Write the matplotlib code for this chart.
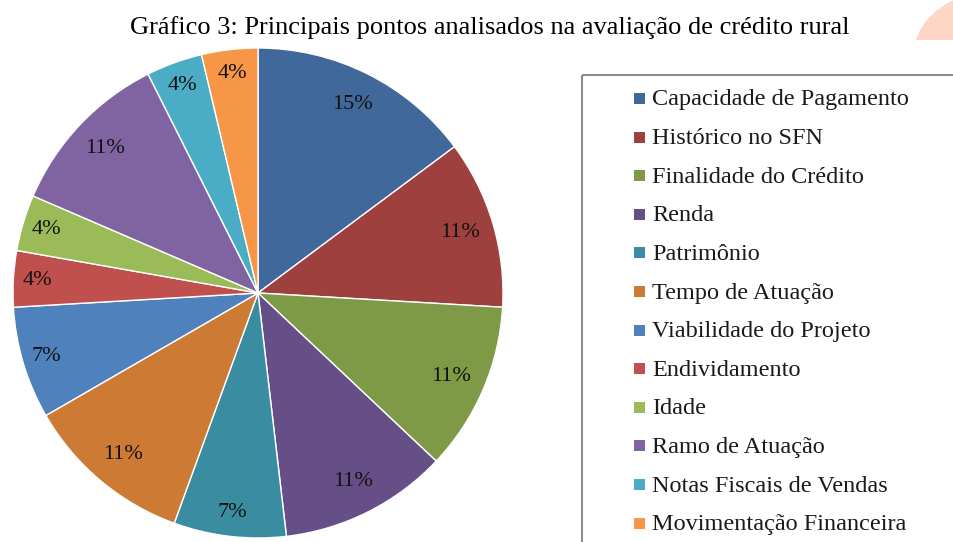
import matplotlib
matplotlib.use("Agg")
import matplotlib.pyplot as plt
import numpy as np
from matplotlib.patches import Rectangle, Polygon

categories = ["Capacidade de Pagamento", "Histórico no SFN", "Finalidade do Crédito",
              "Renda", "Patrimônio", "Tempo de Atuação", "Viabilidade do Projeto",
              "Endividamento", "Idade", "Ramo de Atuação", "Notas Fiscais de Vendas",
              "Movimentação Financeira"]
# counts of responses (shown as rounded percentages: 15%, 11%, 7%, 4%)
counts = [4, 3, 3, 3, 2, 3, 2, 1, 1, 3, 1, 1]
colors = ["#41689A", "#9E413E", "#7E9A47", "#664E86", "#3A8DA1", "#CD7A35",
          "#4F81BD", "#C0504D", "#9BBB59", "#8064A2", "#4BACC6", "#F79646"]
title = "Gráfico 3: Principais pontos analisados na avaliação de crédito rural"

W, H = 954, 542
fig = plt.figure(figsize=(W / 100, H / 100), dpi=100)
fig.patch.set_facecolor("white")

# watermark-like orange shape top right
wm = fig.add_axes([0, 0, 1, 1], zorder=-5)
wm.set_xlim(0, W); wm.set_ylim(H, 0); wm.axis("off")
wm.add_patch(Polygon([(916, 40), (920, 30), (927, 20), (936, 11), (946, 4), (954, 0),
                      (954, 40)], closed=True, facecolor="#FDD6C5", edgecolor="none"))

cx, cy, r = 258, 293, 245
ax = fig.add_axes([(cx - r) / W, (H - cy - r) / H, 2 * r / W, 2 * r / H])
wedges, texts, autotexts = ax.pie(counts, colors=colors, startangle=90, counterclock=False,
                                  autopct="%.0f%%", pctdistance=0.87,
                                  wedgeprops=dict(edgecolor="white", linewidth=1.0))
total = sum(counts)
for w, t, c in zip(wedges, autotexts, counts):
    ang = np.deg2rad((w.theta1 + w.theta2) / 2)
    d = 0.90 if c / total < 0.08 else 0.86
    t.set_position((d * np.cos(ang), d * np.sin(ang)))
    t.set_ha("center"); t.set_va("center")
    t.set_fontsize(16); t.set_family("Liberation Serif"); t.set_color("#111111")
ax.set_xlim(-1, 1); ax.set_ylim(-1, 1)
ax.axis("off")

fig.text(490 / W, 1 - 28 / H, title, ha="center", va="center",
         fontsize=19, family="Liberation Serif", color="black")

# legend
lg = fig.add_axes([0, 0, 1, 1], zorder=5)
lg.set_xlim(0, W); lg.set_ylim(H, 0); lg.axis("off")
lg.add_patch(Rectangle((582, 75), 400, 500, fill=False, edgecolor="#8c8c8c", lw=1.5, clip_on=False))
y0, dy = 100, 38.6
for i, (c, col) in enumerate(zip(categories, colors)):
    y = y0 + i * dy
    lg.add_patch(Rectangle((634, y - 7), 11, 11, facecolor=col, edgecolor="none"))
    lg.text(652, y, c, ha="left", va="center", fontsize=17.5,
            family="Liberation Serif", color="#1a1a1a")

fig.savefig("out.png", dpi=100, facecolor="white")
